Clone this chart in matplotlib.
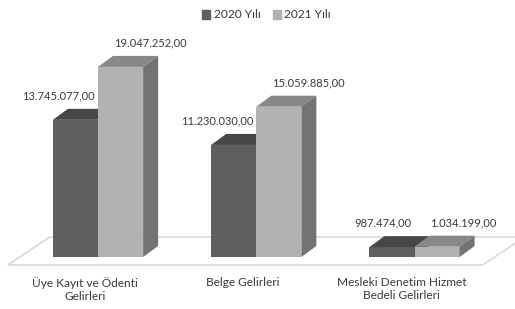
import numpy as np
import matplotlib.pyplot as plt
from matplotlib.patches import Polygon, Patch
from matplotlib import transforms

categories = ['Üye Kayıt ve Ödenti\nGelirleri', 'Belge Gelirleri',
              'Mesleki Denetim Hizmet\nBedeli Gelirleri']
series_names = ['2020 Yılı', '2021 Yılı']
values_2020 = [13745077.00, 11230030.00, 987474.00]
values_2021 = [19047252.00, 15059885.00, 1034199.00]

plt.rcParams['font.family'] = ['Lato', 'DejaVu Sans']
TXT = '#3a3a3a'

# colours: front, top, side
dark = ('#5f5f5f', '#474747', '#505050')
light = ('#b2b2b2', '#888888', '#737373')

DX, DY = 15, 11      # bar depth in pixels
W = 0.285            # bar width (category units)


def tr(v):
    # 1234567.8 -> 1.234.567,80
    return f'{v:,.2f}'.replace(',', '#').replace('.', ',').replace('#', '.')


fig = plt.figure(figsize=(5.15, 3.09), dpi=100)
ax = fig.add_axes([0, 52 / 309, 1, 249.5 / 309])
ax.set_xlim(-98 / 158.25, (515 - 98) / 158.25)
ax.set_ylim(0, 25e6)
ax.axis('off')

inv = ax.transData.inverted()
o = inv.transform((0, 0))


def px(dx, dy):
    p = inv.transform((dx, dy)) - o
    return p[0], p[1]


def off(dx, dy):
    return transforms.offset_copy(ax.transData, fig=fig, x=dx, y=dy, units='dots')


# floor
n = len(categories)
fl, fr = -0.5, n - 0.5
ax_, ay_ = px(-11, -8)
bx_, by_ = px(31, 20)
floor = Polygon([(fl + ax_, ay_), (fr + ax_, ay_), (fr + bx_, by_), (fl + bx_, by_)],
                closed=True, facecolor='white', edgecolor='#d9d9d9', lw=1.2,
                clip_on=False, zorder=1)
ax.add_patch(floor)

ddx, ddy = px(DX, DY)


def bar3d(x0, h, cols, z):
    ax.bar(x0, h, W, align='edge', color=cols[0], zorder=z, clip_on=False)
    top = Polygon([(x0, h), (x0 + W, h), (x0 + W + ddx, h + ddy), (x0 + ddx, h + ddy)],
                  closed=True, facecolor=cols[1], edgecolor='none', zorder=z, clip_on=False)
    side = Polygon([(x0 + W, 0), (x0 + W + ddx, ddy), (x0 + W + ddx, h + ddy), (x0 + W, h)],
                   closed=True, facecolor=cols[2], edgecolor='none', zorder=z, clip_on=False)
    ax.add_patch(top)
    ax.add_patch(side)


x = np.arange(n)
for i in range(n):
    bar3d(x[i] - W, values_2020[i], dark, 2 + 2 * i)
    bar3d(x[i], values_2021[i], light, 3 + 2 * i)
    ax.text(x[i], values_2020[i], tr(values_2020[i]), transform=off(-3, 24),
            ha='right', va='center', fontsize=8, color=TXT, zorder=20)
    ax.text(x[i] - W, values_2021[i], tr(values_2021[i]), transform=off(16 + W * 158.25, 24),
            ha='left', va='center', fontsize=8, color=TXT, zorder=20)
    ax.text(x[i], 0, categories[i], transform=off(-13, -20), ha='center', va='top',
            fontsize=8.6, color=TXT, linespacing=1.2)

handles = [Patch(color=dark[0]), Patch(color=light[0])]
fig.legend(handles, series_names, loc='center', bbox_to_anchor=(266.5 / 515, 1 - 15 / 309),
           ncol=2, frameon=False, fontsize=8.6, handlelength=0.7, handleheight=0.7,
           handletextpad=0.3, columnspacing=1.0, labelcolor=TXT)

fig.savefig('out.png', dpi=100)
